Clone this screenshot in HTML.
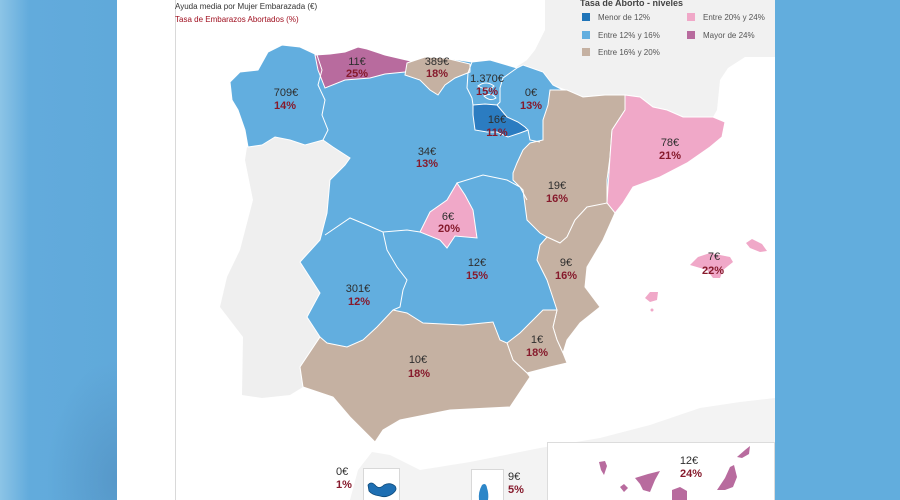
<!DOCTYPE html>
<html><head><meta charset="utf-8"><style>
html,body{margin:0;padding:0;width:900px;height:500px;overflow:hidden;background:#fff}
svg{display:block}
.e{font-family:"Liberation Sans",Arial,sans-serif;font-size:11px;fill:#2e2e2e;text-anchor:middle}
.p{font-family:"Liberation Sans",Arial,sans-serif;font-size:11px;font-weight:bold;fill:#861a2c;text-anchor:middle}
.l{font-family:"Liberation Sans",Arial,sans-serif;font-size:8px;fill:#555}
</style></head><body>
<svg width="900" height="500" viewBox="0 0 900 500" xmlns="http://www.w3.org/2000/svg">
<defs>
<linearGradient id="lg" x1="0" y1="0" x2="1" y2="0">
<stop offset="0" stop-color="#8cc4e6"/><stop offset="0.25" stop-color="#62abdc"/><stop offset="1" stop-color="#60a9da"/>
</linearGradient>
<radialGradient id="rg" cx="1" cy="0.9" r="0.6">
<stop offset="0" stop-color="#4d87b8" stop-opacity="0.5"/><stop offset="1" stop-color="#4d87b8" stop-opacity="0"/>
</radialGradient>
</defs>
<rect x="0" y="0" width="117" height="500" fill="url(#lg)"/>
<rect x="0" y="300" width="117" height="200" fill="url(#rg)"/>
<rect x="775" y="0" width="125" height="500" fill="#62addd"/>
<rect x="117" y="0" width="658" height="500" fill="#ffffff"/>
<line x1="175.5" y1="0" x2="175.5" y2="500" stroke="#d9d9d9" stroke-width="1"/>

<polygon fill="#f1f1f1" points="545,0 775,0 775,57 745,57 728,68 720,80 717,110 713,117 683,117 667,110 653,107 640,97 625,95 605,95 583,97 567,90 553,85 540,75 525,67 515,68 527,60 535,50 545,30"/>
<polygon fill="#f3f3f3" points="350,500 358,470 372,452 390,455 420,470 470,462 540,448 600,438 650,425 700,408 740,402 775,398 775,500"/>
<polygon fill="#efefef" points="247,147 262,145 275,137 290,140 305,145 323,140 333,147 350,158 345,165 330,180 327,213 320,240 300,262 320,293 307,317 320,337 300,367 303,387 290,395 262,398 242,395 243,337 220,307 227,277 240,250 253,200 245,160"/>

<polygon fill="#62aedf" stroke="#ffffff" stroke-width="1" points="230,82 240,72 258,70 268,52 282,45 300,47 317,55 345,52 365,48 385,55 415,62 425,57 445,58 472,62 490,60 517,68 523,65 543,72 553,85 563,90 583,97 605,95 625,95 640,97 653,107 667,110 683,117 713,117 725,122 722,137 710,147 687,163 660,177 633,187 623,203 615,213 603,240 587,267 585,287 600,307 580,323 567,340 563,353 567,363 550,367 527,373 530,377 510,407 450,410 400,420 383,430 375,442 350,417 333,397 303,387 300,367 320,337 307,317 320,293 300,262 320,240 327,213 330,180 345,165 350,158 333,147 323,140 305,145 290,140 275,137 262,145 248,147 245,130 238,110 232,100"/>

<polygon fill="#b86b9e" stroke="#ffffff" stroke-width="1" points="315,55 330,54 345,52 358,47 367,49 385,55 415,62 405,72 385,74 370,78 345,80 325,88 318,70"/>
<polygon fill="#c5b1a2" stroke="#ffffff" stroke-width="1" points="407,63 425,57 445,58 470,64 470,72 455,78 445,85 438,95 430,90 420,80 405,75"/>
<polygon fill="#2b7cc1" stroke="#ffffff" stroke-width="1" points="473,105 485,104 497,105 507,117 518,122 525,127 528,130 520,133 508,137 497,132 487,132 475,130 473,115"/>
<polygon fill="#c5b1a2" stroke="#ffffff" stroke-width="1" points="550,90 567,90 583,97 605,95 625,95 625,110 612,130 610,157 607,180 607,203 595,207 587,207 575,220 567,237 560,243 547,237 540,233 527,220 523,190 513,180 513,173 517,163 523,150 530,143 543,140 543,120 548,105"/>
<polygon fill="#f0a8c8" stroke="#ffffff" stroke-width="1" points="625,95 640,97 653,107 667,110 683,117 713,117 725,122 722,137 710,147 687,163 660,177 633,187 623,203 615,213 607,203 610,157 612,130 625,110"/>
<polygon fill="#c5b1a2" stroke="#ffffff" stroke-width="1" points="560,243 567,237 575,220 587,207 607,203 615,213 603,240 587,267 585,287 600,307 580,323 567,340 563,353 557,340 553,327 557,310 547,280 537,260 540,245 547,237"/>
<polygon fill="#c5b1a2" stroke="#ffffff" stroke-width="1" points="507,343 520,333 543,310 557,310 553,327 557,340 563,353 567,363 550,367 527,373 513,360"/>
<polygon fill="#c5b1a2" stroke="#ffffff" stroke-width="1" points="320,337 327,343 347,347 363,340 377,327 393,310 407,313 423,323 463,325 493,322 500,340 507,343 513,360 527,373 530,377 510,407 450,410 400,420 383,430 375,442 350,417 333,397 303,387 300,367"/>
<polygon fill="#f0a8c8" stroke="#ffffff" stroke-width="1" points="457,183 465,195 473,210 477,238 455,236 447,248 440,240 420,232 430,212 447,200"/>

<g fill="none" stroke="#ffffff" stroke-width="1">
<polyline points="317,55 322,70 318,85 325,100 322,115 328,130 323,140"/>
<polyline points="472,62 468,73 467,88 472,98 473,105"/>
<polyline points="517,68 503,78 500,88 500,102 497,105"/>
<polyline points="528,130 530,140 540,142"/>
<polyline points="457,183 483,175 507,180 520,187 527,200"/>
<polyline points="325,235 350,218 367,225 383,232 407,230 420,232"/>
<polyline points="383,232 387,250 397,267 407,280 403,290 400,307 393,310"/>
<path d="M478,86 q8,-6 16,0 q-6,6 -16,0z M484,96 q8,-4 12,2 q-6,4 -12,-2z"/>
</g>

<g fill="#f0a8c8">
<polygon points="690,265 698,257 710,253 730,257 733,262 723,270 720,278 713,278 707,270"/>
<polygon points="746,243 752,239 762,244 767,251 760,252 750,248"/>
<polygon points="645,298 650,292 658,292 657,300 650,302"/>
<circle cx="652" cy="310" r="1.5"/>
</g>

<rect x="363.5" y="468.5" width="36" height="40" fill="#fff" stroke="#d8d8d8"/>
<path d="M368,485 q3,-4 7,0 q4,5 9,0 q6,-3 11,1 q3,4 -3,8 q-6,4 -12,2 q-8,-1 -11,-5 z" fill="#1e6fb3" stroke="#0d4a7a" stroke-width="0.8"/>
<rect x="471.5" y="469.5" width="32" height="40" fill="#fff" stroke="#d8d8d8"/>
<path d="M482,485 q4,-3 5,3 q2,6 1,12 l-9,0 q-1,-8 3,-15z" fill="#2d86c8"/>

<rect x="547.5" y="442.5" width="227" height="70" fill="#fff" stroke="#dcdcdc"/>
<g fill="#b86b9e">
<polygon points="599,462 605,461 607,466 604,475 601,470"/>
<polygon points="620,487 624,484 628,488 624,492"/>
<polygon points="635,478 648,474 660,471 655,480 650,492 643,490 640,484"/>
<polygon points="672,490 680,487 687,491 687,500 672,500"/>
<polygon points="717,490 725,478 730,467 734,465 737,477 733,487 725,490"/>
<polygon points="737,457 745,450 750,446 749,454 742,458"/>
</g>

<text x="175" y="9" font-family="Liberation Sans, Arial, sans-serif" font-size="8" fill="#333">Ayuda media por Mujer Embarazada (€)</text>
<text x="175" y="22" font-family="Liberation Sans, Arial, sans-serif" font-size="8" fill="#a01020">Tasa de Embarazos Abortados (%)</text>

<text x="580" y="6" font-family="Liberation Sans, Arial, sans-serif" font-size="9" font-weight="bold" fill="#444">Tasa de Aborto - niveles</text>
<rect x="582" y="13" width="8" height="8" fill="#1f74b8"/>
<text class="l" x="598" y="20">Menor de 12%</text>
<rect x="582" y="31" width="8" height="8" fill="#62aedf"/>
<text class="l" x="598" y="38">Entre 12% y 16%</text>
<rect x="582" y="48" width="8" height="8" fill="#c5b1a2"/>
<text class="l" x="598" y="55">Entre 16% y 20%</text>
<rect x="687" y="13" width="8" height="8" fill="#f0a8c8"/>
<text class="l" x="703" y="20">Entre 20% y 24%</text>
<rect x="687" y="31" width="8" height="8" fill="#b86b9e"/>
<text class="l" x="703" y="38">Mayor de 24%</text>

<text class="e" x="286" y="96">709€</text><text class="p" x="285" y="109">14%</text>
<text class="e" x="357" y="65">11€</text><text class="p" x="357" y="77">25%</text>
<text class="e" x="437" y="65">389€</text><text class="p" x="437" y="77">18%</text>
<text class="e" x="487" y="82">1.370€</text><text class="p" x="487" y="95">15%</text>
<text class="e" x="531" y="96">0€</text><text class="p" x="531" y="109">13%</text>
<text class="e" x="497" y="123">16€</text><text class="p" x="497" y="136">11%</text>
<text class="e" x="427" y="155">34€</text><text class="p" x="427" y="167">13%</text>
<text class="e" x="448" y="220">6€</text><text class="p" x="449" y="232">20%</text>
<text class="e" x="557" y="189">19€</text><text class="p" x="557" y="202">16%</text>
<text class="e" x="670" y="146">78€</text><text class="p" x="670" y="159">21%</text>
<text class="e" x="714" y="260">7€</text><text class="p" x="713" y="274">22%</text>
<text class="e" x="477" y="266">12€</text><text class="p" x="477" y="279">15%</text>
<text class="e" x="566" y="266">9€</text><text class="p" x="566" y="279">16%</text>
<text class="e" x="358" y="292">301€</text><text class="p" x="359" y="305">12%</text>
<text class="e" x="537" y="343">1€</text><text class="p" x="537" y="356">18%</text>
<text class="e" x="418" y="363">10€</text><text class="p" x="419" y="377">18%</text>
<text class="e" x="336" y="475" style="text-anchor:start">0€</text><text class="p" x="336" y="488" style="text-anchor:start">1%</text>
<text class="e" x="508" y="480" style="text-anchor:start">9€</text><text class="p" x="508" y="493" style="text-anchor:start">5%</text>
<text class="e" x="689" y="464">12€</text><text class="p" x="691" y="477">24%</text>
</svg>
</body></html>
